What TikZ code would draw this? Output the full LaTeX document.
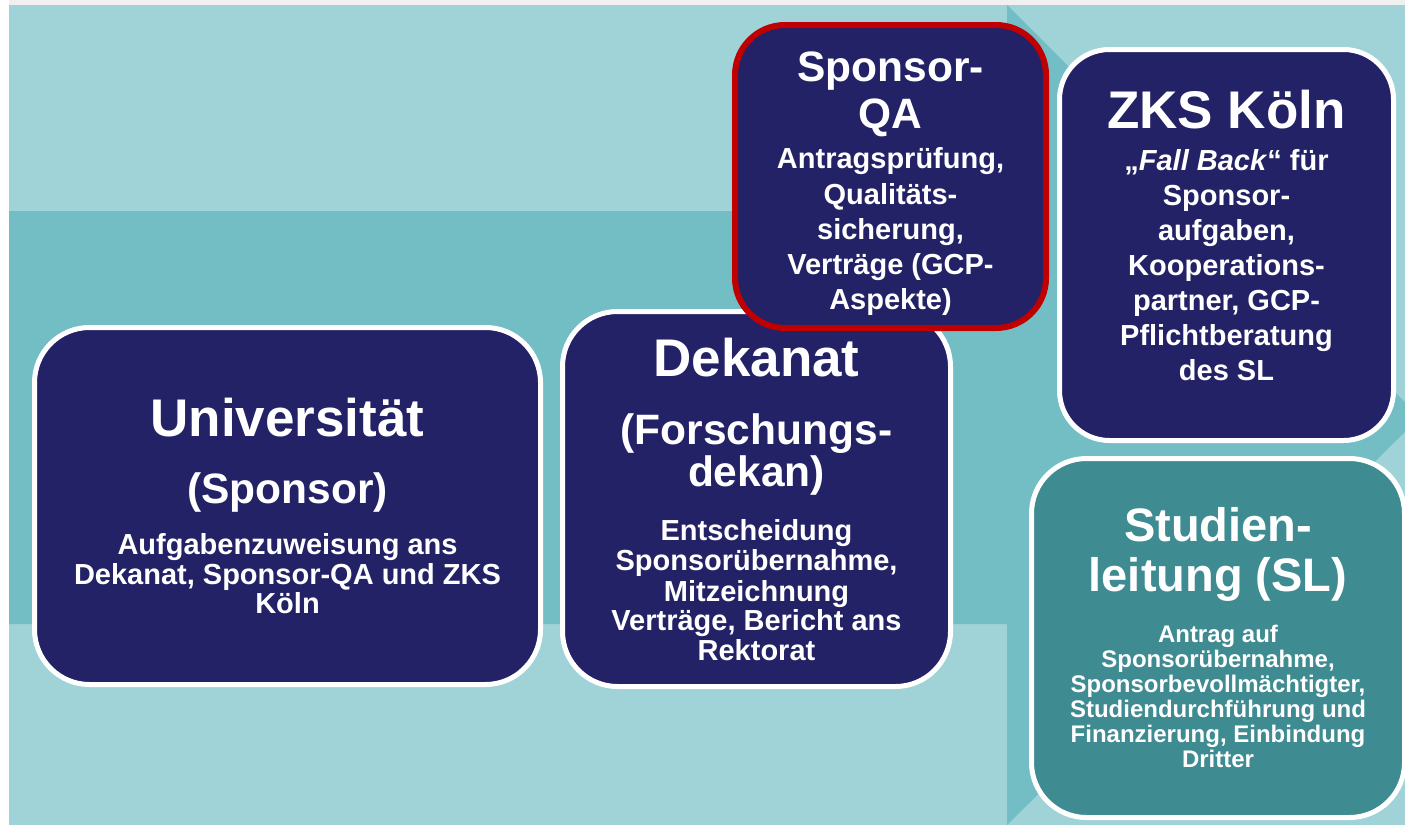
\documentclass[tikz,border=0pt]{standalone}
\usepackage{fontspec}
\setmainfont{Liberation Sans}
\definecolor{navy}{HTML}{232267}
\definecolor{slteal}{HTML}{3E8B91}
\definecolor{bglight}{HTML}{A0D3D7}
\definecolor{bgdark}{HTML}{72BEC4}
\definecolor{qared}{HTML}{C00000}
% line sizes; the gap between lines is set by \\[..] alone
\newcommand\titlesz{\fontsize{53}{0}\selectfont}
\newcommand\midsz{\fontsize{42.5}{0}\selectfont}
\newcommand\slsz{\fontsize{47}{0}\selectfont}
\newcommand\notesz{\fontsize{24}{0}\selectfont}
\lineskiplimit=-1000pt
\begin{document}
\begin{tikzpicture}[x=1pt,y=-1pt,
  box/.style={rounded corners=55pt,draw=white,line width=5pt,fill=navy,text=white,
    align=center,inner sep=0pt,font=\bfseries\fontsize{29}{0}\selectfont}]
\useasboundingbox (0,0) rectangle (1405,825);
\clip (0,0) rectangle (1405,825);
% background with the big arrow
\fill[white] (0,0) rectangle (1405,825);
\fill[gray!12] (9,0) rectangle (1405,5);
\fill[bglight] (9,5) rectangle (1405,825);
\fill[bgdark] (9,211) -- (1007,211) -- (1007,5) -- (1420,417) -- (1007,825)
  -- (1007,624) -- (9,624) -- cycle;
% boxes
\node[box,minimum width=506pt,minimum height=357pt] (uni) at (287.5,506)
  {\titlesz Universität\\[67pt] \midsz (Sponsor)\\[51pt] Aufgabenzuweisung ans\\[30pt]
   Dekanat, Sponsor-QA und ZKS\\[29pt] Köln};
\node[box,minimum width=388pt,minimum height=375pt] (dekanat) at (756.5,499)
  {\titlesz Dekanat\\[68pt] \midsz (Forschungs-\\[42pt] \midsz dekan)\\[54pt]
   Entscheidung\\[30pt] Sponsorübernahme,\\[31pt] Mitzeichnung\\[29pt]
   Verträge, Bericht ans\\[30pt] Rektorat};
\node[box,draw=qared,line width=6pt,rounded corners=50pt,minimum width=311pt,
  minimum height=303pt] (qa) at (890.5,176.5)
  {\midsz\rule{0pt}{45pt}Sponsor-\\[47pt] \midsz QA\\[40pt] Antragsprüfung,\\[36pt] Qualitäts-\\[35pt]
   sicherung,\\[35pt] Verträge (GCP-\\[35pt] Aspekte)};
\node[box,rounded corners=50pt,minimum width=334pt,minimum height=391pt] (zks) at (1226.5,245)
  {\titlesz ZKS Köln\\[42pt] „\textit{Fall Back}“ für\\[35pt] Sponsor-\\[35pt] aufgaben,\\[35pt]
   Kooperations-\\[35pt] partner, GCP-\\[35pt] Pflichtberatung\\[35pt]
   des SL\rule[-20pt]{0pt}{20pt}};
\node[box,fill=slteal,minimum width=373pt,minimum height=359pt] (sl) at (1218,638)
  {\slsz Studien-\\[50pt] \slsz leitung (SL)\\[51pt] \notesz Antrag auf\\[25pt]
   \notesz Sponsorübernahme,\\[25pt] \notesz Sponsorbevollmächtigter,\\[25pt]
   \notesz Studiendurchführung und\\[25pt] \notesz Finanzierung, Einbindung\\[25pt]
   \notesz Dritter};
\end{tikzpicture}
\end{document}
